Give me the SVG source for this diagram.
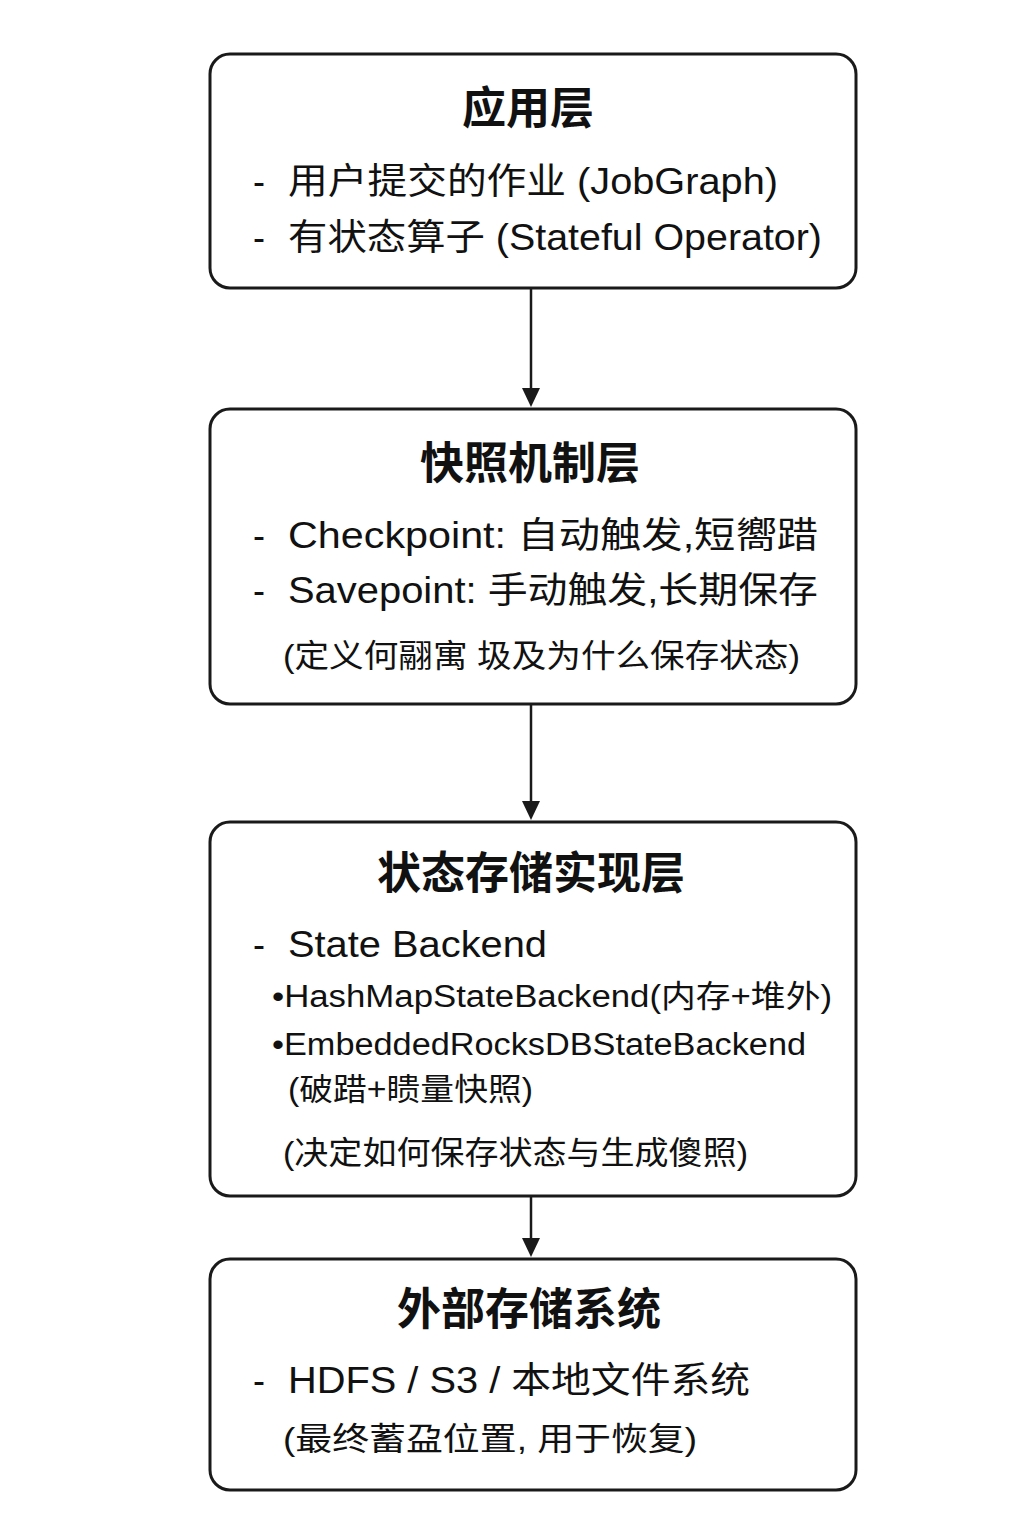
<svg xmlns="http://www.w3.org/2000/svg" width="1024" height="1536" viewBox="0 0 1024 1536">
<defs>
<style>
.box{fill:#fff;stroke:#1a1a1a;stroke-width:3}
.t{font-family:"Liberation Sans","Noto Sans CJK SC",sans-serif;fill:#111}
.title{font-size:44px;font-weight:bold;text-anchor:middle}
.body{font-size:36px}
.note{font-size:32px}
.sub{font-size:31px}
.conn{stroke:#1a1a1a;stroke-width:2.5;fill:none}
</style>
<marker id="ah" viewBox="0 0 10 10" refX="10" refY="5" markerWidth="7" markerHeight="7" markerUnits="userSpaceOnUse" orient="auto">
<path d="M0,0 L10,5 L0,10 z" fill="#1a1a1a"/>
</marker>
</defs>
<rect width="1024" height="1536" fill="#fff"/>
<g id="connectors">
<line class="conn" x1="531" y1="289" x2="531" y2="390"/>
<path d="M522,388 L540,388 L531,407 z" fill="#1a1a1a"/>
<line class="conn" x1="531" y1="705" x2="531" y2="803"/>
<path d="M522,801 L540,801 L531,820 z" fill="#1a1a1a"/>
<line class="conn" x1="531" y1="1197" x2="531" y2="1240"/>
<path d="M522,1238 L540,1238 L531,1257 z" fill="#1a1a1a"/>
</g>
<g id="node-app">
<rect class="box" x="210" y="54" width="646" height="234" rx="20"/>
<text class="t title" x="528" y="124">应用层</text>
<text class="t body" x="253" y="194">-</text>
<text class="t body" x="288" y="194" textLength="490" lengthAdjust="spacingAndGlyphs">用户提交的作业 (JobGraph)</text>
<text class="t body" x="253" y="250">-</text>
<text class="t body" x="288" y="250" textLength="534" lengthAdjust="spacingAndGlyphs">有状态算子 (Stateful Operator)</text>
</g>
<g id="node-snapshot">
<rect class="box" x="210" y="409" width="646" height="295" rx="20"/>
<text class="t title" x="530" y="479">快照机制层</text>
<text class="t body" x="253" y="548">-</text>
<text class="t body" x="288" y="548" textLength="530" lengthAdjust="spacingAndGlyphs">Checkpoint: 自动触发,短嚮踖</text>
<text class="t body" x="253" y="603">-</text>
<text class="t body" x="288" y="603" textLength="530" lengthAdjust="spacingAndGlyphs">Savepoint: 手动触发,长期保存</text>
<text class="t note" x="283" y="667" textLength="517" lengthAdjust="spacingAndGlyphs">(定义何翮寓 圾及为什么保存状态)</text>
</g>
<g id="node-backend">
<rect class="box" x="210" y="822" width="646" height="374" rx="20"/>
<text class="t title" x="531" y="889">状态存储实现层</text>
<text class="t body" x="253" y="957">-</text>
<text class="t body" x="288" y="957" textLength="259" lengthAdjust="spacingAndGlyphs">State Backend</text>
<text class="t sub" x="272" y="1007" textLength="560" lengthAdjust="spacingAndGlyphs">•HashMapStateBackend(内存+堆外)</text>
<text class="t sub" x="272" y="1055" textLength="534" lengthAdjust="spacingAndGlyphs">•EmbeddedRocksDBStateBackend</text>
<text class="t sub" x="288" y="1100" textLength="245" lengthAdjust="spacingAndGlyphs">(破踖+瞆量快照)</text>
<text class="t note" x="283" y="1164" textLength="465" lengthAdjust="spacingAndGlyphs">(决定如何保存状态与生成傻照)</text>
</g>
<g id="node-storage">
<rect class="box" x="210" y="1259" width="646" height="231" rx="20"/>
<text class="t title" x="529" y="1325">外部存储系统</text>
<text class="t body" x="253" y="1393">-</text>
<text class="t body" x="288" y="1393" textLength="462" lengthAdjust="spacingAndGlyphs">HDFS / S3 / 本地文件系统</text>
<text class="t note" x="283" y="1450" textLength="414" lengthAdjust="spacingAndGlyphs">(最终蓄盁位置, 用于恢复)</text>
</g>
</svg>
